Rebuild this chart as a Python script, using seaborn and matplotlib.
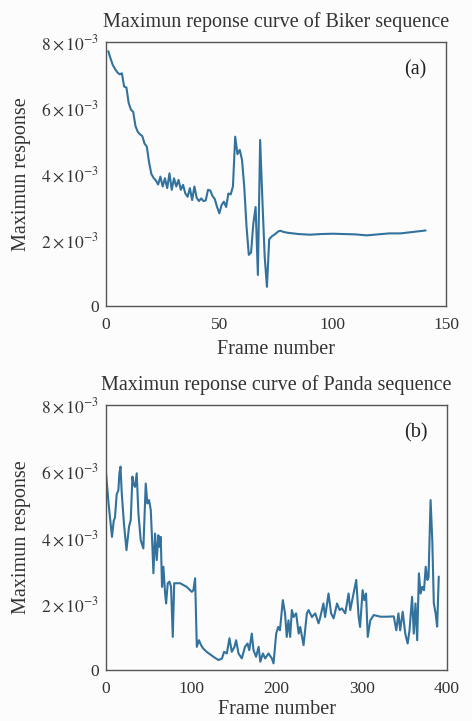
import matplotlib
matplotlib.use("Agg")
import matplotlib.pyplot as plt
import seaborn as sns
import pandas as pd
import numpy as np

# ---------------- data ----------------
biker_frames = [1, 2, 3, 4, 5, 6, 7, 8, 9, 10, 11, 12, 13, 14, 15, 16, 17, 18, 19, 20,
                21, 22, 23, 24, 25, 26, 27, 28, 29, 30, 31, 32, 33, 34, 35, 36, 37, 38, 39, 40,
                41, 42, 43, 44, 45, 46, 47, 48, 49, 50, 51, 52, 53, 54, 55, 56, 57, 58, 59, 60,
                61, 62, 63, 64, 65, 66, 67, 68, 69, 70, 71, 72, 73, 74, 75, 76, 77, 78, 80,
                85, 90, 95, 100, 105, 110, 115, 120, 125, 130, 135, 140, 141]
biker_resp = [7.72, 7.50, 7.30, 7.18, 7.08, 7.02, 7.05, 6.65, 6.62, 6.15, 5.95, 5.88, 5.45, 5.28, 5.20, 5.15, 4.92, 4.83, 4.35, 4.00,
              3.88, 3.80, 3.68, 3.92, 3.62, 3.87, 3.57, 4.02, 3.52, 3.87, 3.62, 3.82, 3.52, 3.67, 3.41, 3.31, 3.57, 3.21, 3.62, 3.28,
              3.18, 3.26, 3.18, 3.20, 3.52, 3.50, 3.33, 3.24, 3.00, 2.81, 3.06, 3.16, 3.00, 3.41, 3.38, 3.62, 5.13, 4.60, 4.73, 4.43,
              3.60, 2.40, 1.55, 1.62, 2.50, 3.00, 0.94, 5.03, 3.20, 1.50, 0.58, 2.02, 2.10, 2.15, 2.20, 2.26, 2.28, 2.25, 2.22,
              2.18, 2.16, 2.18, 2.19, 2.18, 2.17, 2.14, 2.17, 2.20, 2.20, 2.24, 2.28, 2.29]

panda_frames = [0, 3, 7, 9, 10.5, 12.5, 14.5, 15.7, 17, 18.5, 21, 24, 27, 29, 31, 32, 34, 36, 38, 40.7,
                43.8, 46.6, 48.5, 50.5, 52.5, 54.4, 55.6, 57.5, 59.5, 61.4, 62.6, 64.2, 65.7, 67.3, 69.3, 70.5, 72.4, 74.4, 76.3, 78.3,
                80, 87, 94.7, 100.6, 102.5, 104.5, 106.5, 109, 111.5, 114, 118, 126, 132, 136, 138.5, 141.7, 144.8, 147.5, 150.7, 152.6,
                155.4, 159.3, 163, 166, 168, 171, 173, 176, 179, 181, 184, 186.7, 190.6, 194.5, 196.5, 199.6, 202, 204, 207.4, 210,
                212, 214, 216, 218, 220, 223, 226, 227.8, 231.7, 235.6, 237.6, 241.5, 245.4, 249.3, 251, 255, 257, 261, 264, 267,
                271, 274, 276.7, 280.6, 284.5, 286.5, 290.4, 293.5, 296.3, 298, 301, 303, 305, 307, 310, 314, 322, 329.6, 337.5, 340.5,
                343, 345, 348, 351, 353.8, 356, 359, 361, 363, 365, 367, 369, 371, 373, 375, 377, 378.3, 380.7, 382.7, 384.5,
                386.6, 388.4, 390.3]
panda_resp = [5.94, 5.03, 4.02, 4.50, 4.60, 5.30, 5.43, 5.94, 6.14, 5.33, 4.43, 3.62, 4.33, 4.53, 5.84, 5.63, 5.53, 5.94, 4.73, 3.92,
              3.67, 5.63, 5.03, 5.13, 4.83, 3.72, 2.92, 4.12, 3.32, 4.07, 3.72, 4.02, 2.51, 3.12, 2.31, 2.01, 2.62, 2.67, 2.51, 1.00,
              2.62, 2.62, 2.51, 2.36, 2.41, 2.77, 0.70, 0.90, 0.75, 0.65, 0.55, 0.40, 0.30, 0.35, 0.55, 0.50, 0.96, 0.55, 0.70, 0.90,
              0.50, 0.35, 0.70, 0.80, 0.60, 1.10, 0.60, 0.40, 0.70, 0.25, 0.50, 0.35, 0.50, 0.35, 0.20, 1.10, 1.30, 1.20, 2.11, 1.71,
              1.00, 1.50, 1.00, 1.81, 1.60, 1.71, 1.10, 1.30, 0.75, 1.71, 1.81, 1.60, 1.71, 1.41, 1.56, 2.01, 1.60, 2.31, 1.71, 1.56,
              2.01, 1.81, 1.86, 1.71, 2.31, 1.81, 2.31, 2.72, 1.61, 1.30, 2.41, 2.11, 2.31, 1.00, 1.50, 1.66, 1.61, 1.61, 1.62, 1.20,
              1.71, 1.20, 1.76, 1.10, 0.80, 1.20, 2.21, 1.10, 2.01, 0.90, 2.92, 2.31, 2.51, 2.41, 3.12, 2.72, 2.80, 5.13, 3.92, 2.01,
              1.71, 1.31, 2.82]

titles = ["Maximun reponse curve of Biker sequence", "Maximun reponse curve of Panda sequence"]
panel_tags = ["(a)", "(b)"]
xlims = [150, 400]
xticks_list = [[0, 50, 100, 150], [0, 100, 200, 300, 400]]
yticks = [0, 2e-3, 4e-3, 6e-3, 8e-3]
ytick_labels = ["0", r"$2\times10^{-3}$", r"$4\times10^{-3}$", r"$6\times10^{-3}$", r"$8\times10^{-3}$"]

# ---------------- style ----------------
sns.set_theme(style="white")
plt.rcParams["font.family"] = ["Liberation Serif", "DejaVu Serif"]
plt.rcParams["mathtext.fontset"] = "stix"

bg = "#fcfcfd"
fig = plt.figure(figsize=(4.72, 7.21), dpi=100, facecolor=bg)
ax1 = fig.add_axes([0.2246, 0.5756, 0.7203, 0.3662])
ax2 = fig.add_axes([0.2246, 0.0707, 0.7225, 0.3675])

dfs = [
    pd.DataFrame({"frame": biker_frames, "resp": np.array(biker_resp) * 1e-3}),
    pd.DataFrame({"frame": panda_frames, "resp": np.array(panda_resp) * 1e-3}),
]

line_color = "#32729c"
xlabel_pads = [5, 2]
for i, ax in enumerate([ax1, ax2]):
    ax.set_facecolor(bg)
    sns.lineplot(data=dfs[i], x="frame", y="resp", ax=ax, color=line_color,
                 linewidth=1.5, estimator=None, sort=False)
    ax.set_xlim(0, xlims[i])
    ax.set_ylim(0, 8e-3)
    ax.set_xticks(xticks_list[i])
    ax.set_xticklabels([str(t) for t in xticks_list[i]])
    ax.set_yticks(yticks)
    ax.set_yticklabels(ytick_labels)
    ax.tick_params(direction="in", length=4, width=1, colors="#444444",
                   labelsize=12.5, labelcolor="#333333")
    ax.tick_params(axis="x", pad=8)
    ax.tick_params(axis="y", pad=5)
    for s in ax.spines.values():
        s.set_color("#555555")
        s.set_linewidth(1.0)
    ax.set_xlabel("Frame number", fontsize=14.5, color="#333333", labelpad=xlabel_pads[i])
    ax.set_ylabel("Maximun response", fontsize=14.5, color="#333333", labelpad=7)
    ax.set_title(titles[i], fontsize=14.5, color="#333333", pad=11)
    ax.text(0.91, 0.895, panel_tags[i], transform=ax.transAxes, fontsize=14.5,
            ha="center", va="center", color="#222222")

fig.savefig("out.png", dpi=100, facecolor=bg)
